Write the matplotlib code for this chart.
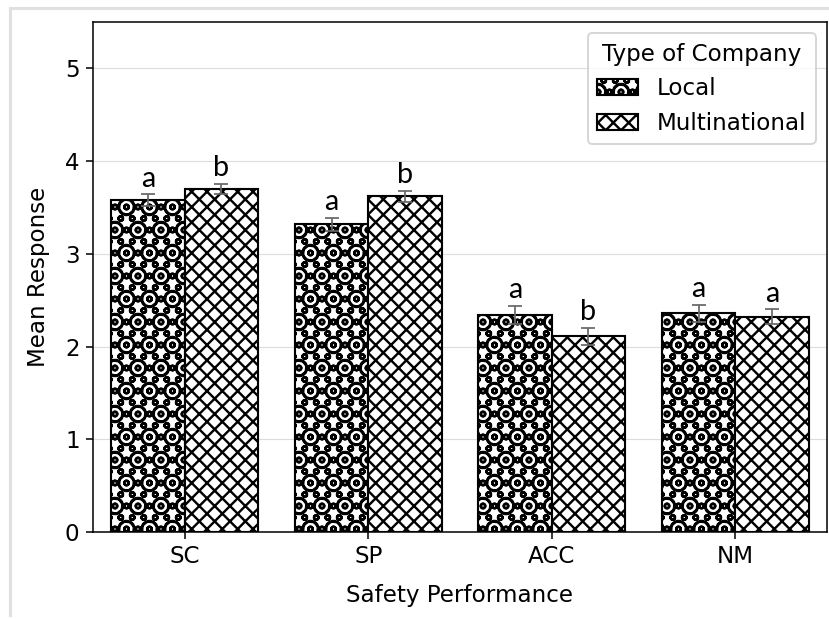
import numpy as np
import matplotlib
matplotlib.use("Agg")
import matplotlib.pyplot as plt
import matplotlib.lines as lines

DPI = 138
plt.rcParams['hatch.linewidth'] = 1.25
plt.rcParams['font.size'] = 12

# data
categories = ['SC', 'SP', 'ACC', 'NM']
local_mean = [3.58, 3.32, 2.34, 2.36]
local_err = [0.06, 0.07, 0.10, 0.09]
multi_mean = [3.70, 3.62, 2.11, 2.32]
multi_err = [0.05, 0.06, 0.09, 0.08]
local_letters = ['a', 'a', 'a', 'a']
multi_letters = ['b', 'b', 'b', 'a']

fig = plt.figure(figsize=(829/DPI, 619/DPI), dpi=DPI)
ax = fig.add_axes([93/829, 1 - 532/619, (827 - 93)/829, (532 - 22)/619])

x = np.arange(len(categories))
w = 0.4
ekw = dict(ecolor='#666666', capsize=3.6, elinewidth=0.9, capthick=0.9)

ax.bar(x - w/2, local_mean, w, yerr=local_err, color='white', edgecolor='black',
       linewidth=1.1, hatch='Ooo', label='Local', error_kw=ekw)
ax.bar(x + w/2, multi_mean, w, yerr=multi_err, color='white', edgecolor='black',
       linewidth=1.1, hatch='xxx', label='Multinational', error_kw=ekw)

# significance letters
for i in range(len(categories)):
    ax.text(x[i] - w/2, local_mean[i] + local_err[i] + 0.03, local_letters[i],
            ha='center', va='bottom', fontsize=15, family='Lato')
    ax.text(x[i] + w/2, multi_mean[i] + multi_err[i] + 0.03, multi_letters[i],
            ha='center', va='bottom', fontsize=15, family='Lato')

ax.set_xlim(-0.5, 3.5)
ax.set_ylim(0, 5.5)
ax.set_xticks(x)
ax.set_xticklabels(categories)
ax.set_yticks([0, 1, 2, 3, 4, 5])
ax.yaxis.grid(True, color='#dddddd', linewidth=0.6)
ax.set_axisbelow(True)
ax.set_xlabel('Safety Performance', labelpad=8)
ax.set_ylabel('Mean Response', labelpad=8)

ax.legend(title='Type of Company', loc='upper right', fontsize=12, title_fontsize=12,
          handlelength=1.8, handleheight=0.7)

# light grey frame of the screenshot
fig.add_artist(lines.Line2D([10/829, 10/829], [1 - 8/619, 1 - 615/619], color='#e0e0e0', lw=1.6))
fig.add_artist(lines.Line2D([10/829, 1], [1 - 8/619, 1 - 8/619], color='#e0e0e0', lw=1.6))

fig.savefig('out.png', dpi=DPI)
